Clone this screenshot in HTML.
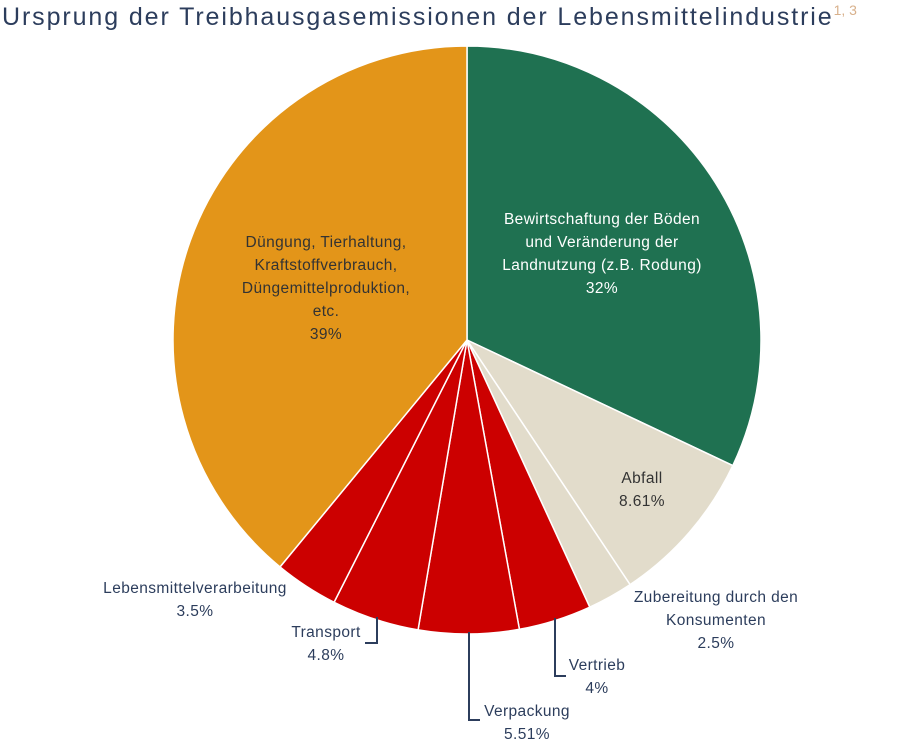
<!DOCTYPE html>
<html><head><meta charset="utf-8"><style>
body{margin:0;background:#fff;width:900px;height:750px;overflow:hidden;font-family:"Liberation Sans",sans-serif}
#t{position:absolute;left:2px;top:2px;font-size:25px;letter-spacing:1.9px;color:#2c3d5c;white-space:nowrap}
#t sup{font-size:14px;letter-spacing:0;color:#d8b18c;vertical-align:10px}
</style></head><body>
<div id="t">Ursprung der Treibhausgasemissionen der Lebensmittelindustrie<sup>1, 3</sup></div>
<svg id="c" width="900" height="750" style="position:absolute;left:0;top:0"></svg>
<script>
const categories=["Bewirtschaftung der Böden und Veränderung der Landnutzung (z.B. Rodung)","Abfall","Zubereitung durch den Konsumenten","Vertrieb","Verpackung","Transport","Lebensmittelverarbeitung","Düngung, Tierhaltung, Kraftstoffverbrauch, Düngemittelproduktion, etc."];
const values=[32,8.61,2.5,4,5.51,4.8,3.5,39];
const valueLabels=["32%","8.61%","2.5%","4%","5.51%","4.8%","3.5%","39%"];
const colors=["#1f7151","#e2dccb","#e2dccb","#cc0000","#cc0000","#cc0000","#cc0000","#e39519"];
const NS="http://www.w3.org/2000/svg",svg=document.getElementById('c');
const cx=467,cy=340,R=294;
const total=values.reduce((a,b)=>a+b,0);
function pt(a,r){return [cx+r*Math.sin(a),cy-r*Math.cos(a)];}
let a0=0;const mids=[];
values.forEach((v,i)=>{
 const a1=a0+v/total*2*Math.PI;
 const p0=pt(a0,R),p1=pt(a1,R);
 const p=document.createElementNS(NS,'path');
 p.setAttribute('d',`M${cx},${cy}L${p0[0]},${p0[1]}A${R},${R} 0 ${a1-a0>Math.PI?1:0} 1 ${p1[0]},${p1[1]}Z`);
 p.setAttribute('fill',colors[i]);p.setAttribute('stroke','#fff');p.setAttribute('stroke-width','1.5');
 
 
 svg.appendChild(p);mids.push((a0+a1)/2);a0=a1;
});
function text(lines,x,y,fill,name){
 const t=document.createElementNS(NS,'text');
 t.setAttribute('x',x);t.setAttribute('y',y);t.setAttribute('fill',fill);
 t.setAttribute('font-size','15.5');t.setAttribute('text-anchor','middle');
 t.setAttribute('letter-spacing','0.4');
 t.setAttribute('font-family','Liberation Sans, sans-serif');
 
 
 lines.forEach((l,k)=>{const s=document.createElementNS(NS,'tspan');s.setAttribute('x',x);s.setAttribute('dy',k?23:0);s.textContent=l;t.appendChild(s);});
 svg.appendChild(t);
}
function line(pts,name){
 const l=document.createElementNS(NS,'polyline');
 l.setAttribute('points',pts);l.setAttribute('fill','none');l.setAttribute('stroke','#2c3d5c');l.setAttribute('stroke-width','2');
 
 
 svg.appendChild(l);
}
text(["Bewirtschaftung der Böden","und Veränderung der","Landnutzung (z.B. Rodung)",valueLabels[0]],602,224,"#fff","label-boeden");
text(["Abfall",valueLabels[1]],642,483,"#333","label-abfall");
text(["Zubereitung durch den","Konsumenten",valueLabels[2]],716,602,"#2c3d5c","label-zubereitung");
text(["Vertrieb",valueLabels[3]],597,670,"#2c3d5c","label-vertrieb");
text(["Verpackung",valueLabels[4]],527,716,"#2c3d5c","label-verpackung");
text(["Transport",valueLabels[5]],326,637,"#2c3d5c","label-transport");
text(["Lebensmittelverarbeitung",valueLabels[6]],195,593,"#2c3d5c","label-verarbeitung");
text(["Düngung, Tierhaltung,","Kraftstoffverbrauch,","Düngemittelproduktion,","etc.",valueLabels[7]],326,247,"#333","label-duengung");
line("377,617 377,643 365,643","leader-transport");
line("469,632 469,720 480,720","leader-verpackung");
line("555,618 555,676 566,676","leader-vertrieb");
</script>
</body></html>
